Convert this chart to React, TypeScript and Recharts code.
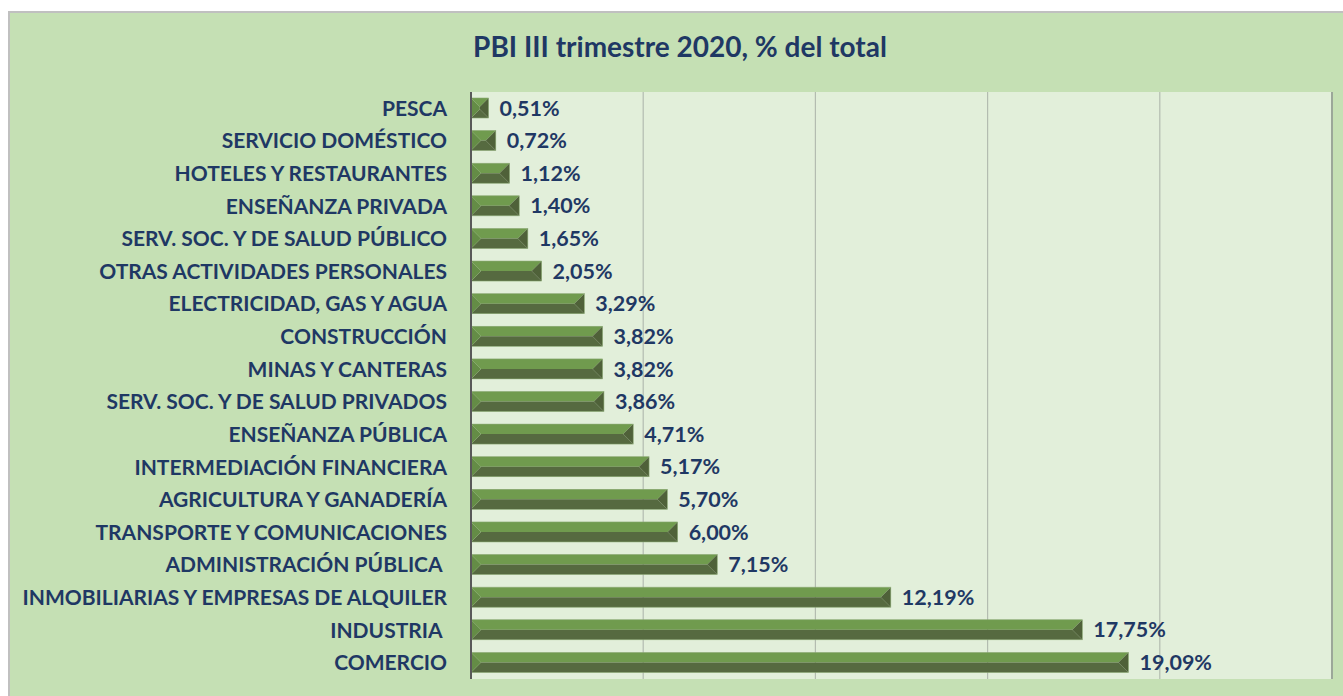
import React from "react";
import {
  BarChart,
  Bar,
  XAxis,
  YAxis,
  CartesianGrid,
  LabelList,
  ReferenceLine,
} from "recharts";

const categories = [
  "PESCA",
  "SERVICIO DOMÉSTICO",
  "HOTELES Y RESTAURANTES",
  "ENSEÑANZA PRIVADA",
  "SERV. SOC. Y DE SALUD PÚBLICO",
  "OTRAS ACTIVIDADES PERSONALES",
  "ELECTRICIDAD, GAS Y AGUA",
  "CONSTRUCCIÓN",
  "MINAS Y CANTERAS",
  "SERV. SOC. Y DE SALUD PRIVADOS",
  "ENSEÑANZA PÚBLICA",
  "INTERMEDIACIÓN FINANCIERA",
  "AGRICULTURA Y GANADERÍA",
  "TRANSPORTE Y COMUNICACIONES",
  "ADMINISTRACIÓN PÚBLICA ",
  "INMOBILIARIAS Y EMPRESAS DE ALQUILER",
  "INDUSTRIA ",
  "COMERCIO",
];

const values = [
  0.51, 0.72, 1.12, 1.4, 1.65, 2.05, 3.29, 3.82, 3.82, 3.86, 4.71, 5.17, 5.7,
  6.0, 7.15, 12.19, 17.75, 19.09,
];

const xTicks = [0, 5, 10, 15, 20, 25];

const data = categories.map((c, i) => ({ name: c, value: values[i] }));

const TEXT = "#1f3864";
const FONT = "Lato, 'Open Sans', sans-serif";

const BevelBar = (props: any) => {
  const { x, y, width, height } = props;
  if (width == null || width <= 0) return null;
  const b = Math.min(height / 2, width / 2);
  const x2 = x + width;
  const y2 = y + height;
  const ym = y + b;
  return (
    <g>
      <polygon
        points={`${x},${y} ${x2},${y} ${x2 - b},${ym} ${x + b},${ym}`}
        fill="#709b4e"
      />
      <polygon
        points={`${x},${y2} ${x2},${y2} ${x2 - b},${y2 - b} ${x + b},${y2 - b}`}
        fill="#566a40"
      />
      {height - 2 * b > 0 && (
        <rect x={x + b} y={ym} width={Math.max(0, width - 2 * b)} height={height - 2 * b} fill="#637f47" />
      )}
      <polygon points={`${x},${y} ${x + b},${ym} ${x + b},${y2 - b} ${x},${y2}`} fill="#648c46" />
      <polygon points={`${x2},${y} ${x2 - b},${ym} ${x2 - b},${y2 - b} ${x2},${y2}`} fill="#4f6139" />
      <rect x={x} y={y} width={width} height={height} fill="none" stroke="#8aa873" strokeWidth={0.6} />
    </g>
  );
};

const CatTick = (props: any) => {
  const { x, y, payload } = props;
  return (
    <text
      x={x}
      y={y}
      dy={7.5}
      textAnchor="end"
      fill={TEXT}
      fontFamily={FONT}
      fontWeight={700}
      fontSize={21}
      style={{ whiteSpace: "pre" }}
    >
      {payload.value}
    </text>
  );
};

const fmt = (v: any) => `${Number(v).toFixed(2).replace(".", ",")}%`;

export default function App() {
  return (
    <div
      style={{
        position: "fixed",
        top: 11,
        left: 8,
        width: 1335,
        height: 685,
        boxSizing: "border-box",
        borderTop: "2px solid #c0c0c0",
        borderLeft: "2px solid #c0c0c0",
        background: "#c5e0b4",
        overflow: "hidden",
      }}
    >
      <BarChart
        layout="vertical"
        width={1333}
        height={683}
        data={data}
        margin={{ top: 79, right: 11, bottom: 17, left: 0 }}
        barSize={20}
      >
        <text
          x={670}
          y={44}
          textAnchor="middle"
          fill={TEXT}
          fontFamily={FONT}
          fontWeight={700}
          fontSize={28}
        >
          PBI III trimestre 2020, % del total
        </text>
        <CartesianGrid horizontal={false} stroke="#b3bcb0" strokeWidth={1.2} fill="#e2efda" />
        <XAxis type="number" domain={[0, 25]} ticks={xTicks} hide />
        <YAxis
          type="category"
          dataKey="name"
          width={461}
          interval={0}
          tickLine={false}
          tickSize={0}
          tickMargin={24}
          axisLine={{ stroke: "#595959", strokeWidth: 2 }}
          tick={<CatTick />}
        />
        <ReferenceLine x={25} stroke="#9ba799" strokeWidth={2} />
        <Bar dataKey="value" isAnimationActive={false} shape={<BevelBar />}>
          <LabelList
            dataKey="value"
            position="right"
            offset={11}
            formatter={fmt}
            fill={TEXT}
            fontFamily={FONT}
            fontWeight={700}
            fontSize={21.5}
          />
        </Bar>
      </BarChart>
    </div>
  );
}
